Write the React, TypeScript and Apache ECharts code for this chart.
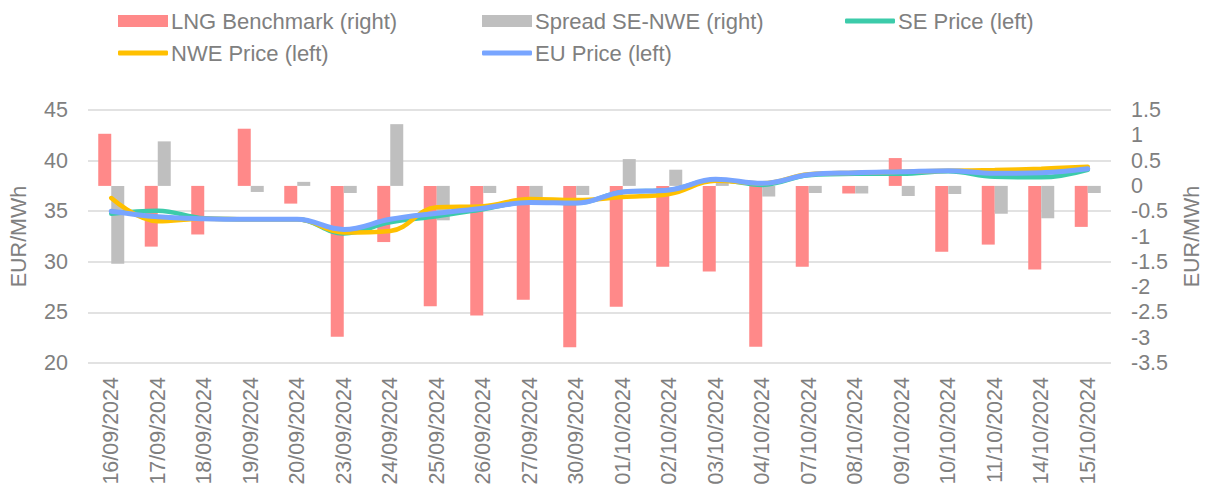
import React, { useEffect, useRef } from "react";
import * as echarts from "echarts";

const categories = [
  "16/09/2024", "17/09/2024", "18/09/2024", "19/09/2024", "20/09/2024", "23/09/2024",
  "24/09/2024", "25/09/2024", "26/09/2024", "27/09/2024", "30/09/2024", "01/10/2024",
  "02/10/2024", "03/10/2024", "04/10/2024", "07/10/2024", "08/10/2024", "09/10/2024",
  "10/10/2024", "11/10/2024", "14/10/2024", "15/10/2024",
];

const lngBenchmark = [
  1.03, -1.2, -0.96, 1.13, -0.35, -2.98, -1.11, -2.38, -2.56, -2.25, -3.19, -2.39,
  -1.6, -1.69, -3.18, -1.6, -0.15, 0.55, -1.3, -1.16, -1.65, -0.81,
];

const spreadSeNwe = [
  -1.54, 0.88, 0.0, -0.12, 0.08, -0.14, 1.22, -0.68, -0.14, -0.22, -0.18, 0.53,
  0.32, 0.09, -0.21, -0.14, -0.15, -0.2, -0.16, -0.55, -0.64, -0.14,
];

const sePrice = [
  34.75, 35.05, 34.3, 34.2, 34.2, 32.8, 33.9, 34.5, 35.2, 35.9, 35.8, 36.9,
  37.1, 38.1, 37.6, 38.55, 38.7, 38.7, 38.95, 38.4, 38.35, 39.1,
];

const nwePrice = [
  36.3, 34.0, 34.25, 34.2, 34.2, 32.9, 33.05, 35.4, 35.5, 36.2, 36.1, 36.4,
  36.7, 38.0, 37.75, 38.65, 38.8, 38.9, 39.0, 39.07, 39.2, 39.4,
];

const euPrice = [
  35.0, 34.45, 34.25, 34.2, 34.2, 33.2, 34.2, 34.8, 35.3, 35.85, 35.8, 36.9,
  37.1, 38.15, 37.75, 38.6, 38.8, 38.9, 39.0, 38.75, 38.8, 39.2,
];

const leftTicks = { min: 20, max: 45, interval: 5 };
const rightTicks = { min: -3.5, max: 1.5, interval: 0.5 };

const FONT = "Liberation Sans";
const TXT = "#808080";
const AXIS_FS = 21.5;

export default function App() {
  const ref = useRef<HTMLDivElement>(null);
  useEffect(() => {
    if (!ref.current) return;
    const chart = echarts.init(ref.current, undefined, { renderer: "svg" });
    const mkLegend = (name: string, left: number, top: number, isLine: boolean) => ({
      data: [name],
      left,
      top,
      itemWidth: 50,
      itemHeight: isLine ? 5 : 12,
      itemGap: 0,
      icon: isLine ? "roundRect" : "rect",
      textStyle: { color: TXT, fontSize: 22, fontFamily: FONT, padding: [0, 0, 0, -2] },
      padding: 0,
    });
    chart.setOption({
      animation: false,
      textStyle: { fontFamily: FONT },
      legend: [
        mkLegend("LNG Benchmark (right)", 118, 10, false),
        mkLegend("Spread SE-NWE (right)", 482, 10, false),
        mkLegend("SE Price (left)", 845, 10, true),
        mkLegend("NWE Price (left)", 118, 42, true),
        mkLegend("EU Price (left)", 482, 42, true),
      ],
      grid: { left: 87, right: 96, top: 110, bottom: 128, containLabel: false },
      xAxis: {
        type: "category",
        data: categories,
        axisLine: { show: false },
        axisTick: { show: false },
        axisLabel: {
          rotate: 90,
          interval: 0,
          color: TXT,
          fontSize: AXIS_FS,
          fontFamily: FONT,
          margin: 14,
        },
      },
      yAxis: [
        {
          type: "value",
          min: leftTicks.min,
          max: leftTicks.max,
          interval: leftTicks.interval,
          name: "EUR/MWh",
          nameLocation: "middle",
          nameGap: 58,
          nameTextStyle: { color: TXT, fontSize: AXIS_FS, fontFamily: FONT },
          axisLabel: { color: TXT, fontSize: AXIS_FS, fontFamily: FONT, margin: 20 },
          axisLine: { show: false },
          axisTick: { show: false },
          splitLine: { lineStyle: { color: "#D9D9D9", width: 1.5 } },
        },
        {
          type: "value",
          min: rightTicks.min,
          max: rightTicks.max,
          interval: rightTicks.interval,
          name: "EUR/MWh",
          nameLocation: "middle",
          nameGap: 70,
          nameTextStyle: { color: TXT, fontSize: AXIS_FS, fontFamily: FONT },
          axisLabel: { color: TXT, fontSize: AXIS_FS, fontFamily: FONT, margin: 20 },
          axisLine: { show: false },
          axisTick: { show: false },
          splitLine: { show: false },
        },
      ],
      series: [
        {
          name: "LNG Benchmark (right)",
          type: "bar",
          yAxisIndex: 1,
          data: lngBenchmark,
          barWidth: 13,
          barGap: "0%",
          itemStyle: { color: "#FF8989" },
        },
        {
          name: "Spread SE-NWE (right)",
          type: "bar",
          yAxisIndex: 1,
          data: spreadSeNwe,
          barWidth: 13,
          barGap: "0%",
          itemStyle: { color: "#BFBFBF" },
        },
        {
          name: "SE Price (left)",
          type: "line",
          yAxisIndex: 0,
          data: sePrice,
          smooth: 0.4,
          symbol: "none",
          lineStyle: { color: "#3CCBAA", width: 4.5, cap: "round" },
          itemStyle: { color: "#3CCBAA" },
        },
        {
          name: "NWE Price (left)",
          type: "line",
          yAxisIndex: 0,
          data: nwePrice,
          smooth: 0.4,
          symbol: "none",
          lineStyle: { color: "#FFC000", width: 4.5, cap: "round" },
          itemStyle: { color: "#FFC000" },
        },
        {
          name: "EU Price (left)",
          type: "line",
          yAxisIndex: 0,
          data: euPrice,
          smooth: 0.4,
          symbol: "none",
          lineStyle: { color: "#78A5FF", width: 5, cap: "round" },
          itemStyle: { color: "#78A5FF" },
        },
      ],
    });
    return () => chart.dispose();
  }, []);
  return (
    <div
      ref={ref}
      style={{ position: "absolute", left: 0, top: 0, width: 1211, height: 491 }}
    />
  );
}
